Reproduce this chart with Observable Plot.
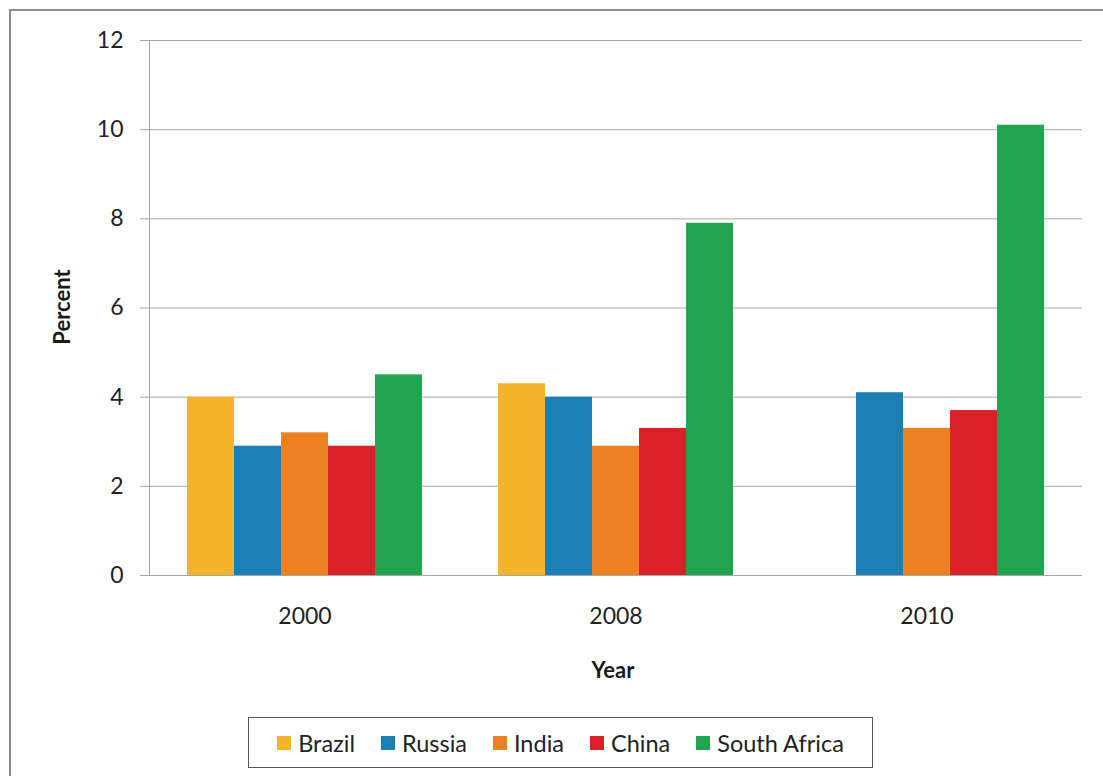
<!DOCTYPE html>
<html><head><meta charset="utf-8">
<script src="https://cdn.jsdelivr.net/npm/d3@7"></script>
<script src="https://cdn.jsdelivr.net/npm/@observablehq/plot@0.6"></script>
<style>
html,body{margin:0;padding:0;background:#fff;overflow:hidden;}
#wrap{position:relative;width:1103px;height:776px;overflow:hidden;font-family:Lato,sans-serif;background:#fff;}
#frame{position:absolute;left:9px;top:9px;width:1200px;height:900px;border:2px solid #8c8c8c;box-sizing:border-box;}
#chart{position:absolute;left:0;top:0;}
#chart svg text{fill:#222;}
.axt{position:absolute;font-weight:bold;font-size:22px;color:#1a1a1a;line-height:26px;white-space:nowrap;}
#legend{position:absolute;left:248px;top:717px;width:625px;height:51px;border:1.5px solid #555;box-sizing:border-box;display:flex;align-items:center;justify-content:center;background:#fff;}
#legend > div{margin:0 !important;min-height:0 !important;display:flex;align-items:center;font-size:23.5px !important;font-family:Lato,sans-serif !important;color:#222 !important;}
#legend span{margin-right:26px !important;display:inline-flex;align-items:center;font-size:23.5px !important;}
#legend span:last-of-type{margin-right:0 !important;}
#legend span svg{margin-right:7px !important;}
</style>
</head>
<body>
<div id="wrap">
  <div id="frame"></div>
  <div id="chart"></div>
  <div class="axt" style="left:62px;top:307px;transform:translate(-50%,-50%) rotate(-90deg);">Percent</div>
  <div class="axt" style="left:613px;top:657px;transform:translateX(-50%);">Year</div>
  <div id="legend"></div>
</div>
<script>
const years = ["2000", "2008", "2010"];
const countries = ["Brazil", "Russia", "India", "China", "South Africa"];
const colors = ["#F5B52A", "#1C7FB4", "#EC8023", "#D92127", "#22A350"];
const brazil = [4.0, 4.3, null];
const russia = [2.9, 4.0, 4.1];
const india = [3.2, 2.9, 3.3];
const china = [2.9, 3.3, 3.7];
const southAfrica = [4.5, 7.9, 10.1];
const yTicks = [0, 2, 4, 6, 8, 10, 12];

const series = [brazil, russia, india, china, southAfrica];
const rows = [];
years.forEach((yr, i) => countries.forEach((c, j) => {
  const v = series[j][i];
  if (v != null) rows.push({year: yr, country: c, value: v});
}));

const chart = Plot.plot({
  width: 1103,
  height: 700,
  marginLeft: 148,
  marginRight: 20,
  marginTop: 40,
  marginBottom: 125,
  style: {fontFamily: "Lato, sans-serif", fontSize: "23px", color: "#a6a6a6", background: "transparent", overflow: "visible"},
  facet: {data: rows, x: "year"},
  fx: {domain: years, padding: 0, label: null, tickSize: 0, tickPadding: 32, axis: "bottom"},
  x: {domain: countries, axis: null, paddingInner: 0, paddingOuter: 0.78},
  y: {domain: [0, 12], ticks: yTicks, tickSize: 9, tickPadding: 17, label: null, line: true},
  color: {domain: countries, range: colors},
  marks: [
    Plot.ruleY(yTicks, {stroke: "#a6a6a6", strokeWidth: 1}),
    Plot.barY(rows, {x: "country", y: "value", fill: "country"})
  ]
});
document.getElementById("chart").appendChild(chart);

const legend = Plot.legend({
  color: {type: "ordinal", domain: countries, range: colors},
  swatchSize: 14,
  style: {fontFamily: "Lato, sans-serif", fontSize: "23.5px", color: "#222", background: "transparent"}
});
document.getElementById("legend").appendChild(legend);
</script>
</body></html>
